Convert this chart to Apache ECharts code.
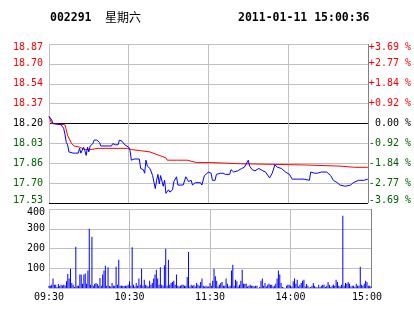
<!DOCTYPE html>
<html><head><meta charset="utf-8">
<script src="https://cdn.jsdelivr.net/npm/echarts@6/dist/echarts.min.js"></script>
<style>html,body{margin:0;padding:0;background:#fff}#c{width:414px;height:314px}</style>
</head><body><div id="c"></div>
<script>
const stockCode = '002291';
const weekday = '星期六';
const timestamp = '2011-01-11 15:00:36';
const prevClose = 18.20;
const pctRange = 3.69;
// tick labels, bottom -> top
const priceTickLabels = ['17.53','17.70','17.86','18.03','18.20','18.37','18.54','18.70','18.87'];
const pctTickLabels = ['-3.69 %','-2.77 %','-1.84 %','-0.92 %',' 0.00 %','+0.92 %','+1.84 %','+2.77 %','+3.69 %'];
const volTickLabels = ['', '100', '200', '300', '400'];
const timeTickLabels = ['09:30', '10:30', '11:30', '14:00', '15:00'];

// price line (minute index since 09:30, price)
const priceMinutes = [0,2,3,4,9,10,11,12,13,14,15,16,18,20,21,22,23,24,26,27,28,29,30,31,33,34,36,38,39,47,48,50,52,53,55,57,60,61,62,64,68,69,71,72,73,74,76,78,80,81,82,83,84,86,87,88,90,91,93,94,96,97,101,103,105,107,108,110,114,115,117,120,122,123,125,126,129,131,133,136,137,139,142,145,147,148,150,151,153,155,158,161,163,166,168,170,172,175,178,181,183,187,192,196,197,200,202,205,209,212,214,217,219,223,227,229,233,237,240];
const priceValues = [18.26,18.23,18.20,18.19,18.19,18.18,18.16,18.11,18.04,18.02,17.96,17.95,17.95,17.95,17.96,17.95,17.99,17.95,18.00,17.97,17.93,18.00,17.96,18.01,18.03,18.06,18.06,18.04,18.01,18.01,18.03,18.02,18.02,18.06,18.05,18.02,18.00,17.97,17.89,17.90,17.90,17.82,17.81,17.78,17.89,17.84,17.82,17.76,17.65,17.72,17.77,17.69,17.76,17.67,17.72,17.61,17.64,17.62,17.64,17.71,17.75,17.68,17.68,17.75,17.71,17.72,17.68,17.70,17.70,17.68,17.76,17.79,17.78,17.72,17.72,17.77,17.78,17.78,17.77,17.77,17.81,17.79,17.80,17.82,17.83,17.85,17.89,17.84,17.81,17.80,17.82,17.80,17.79,17.74,17.78,17.85,17.83,17.82,17.79,17.77,17.73,17.73,17.73,17.72,17.79,17.78,17.78,17.79,17.79,17.76,17.72,17.70,17.68,17.67,17.68,17.70,17.72,17.72,17.73];

// average price line
const avgMinutes = [0,2,12,14,17,19,23,27,31,37,59,62,69,76,83,88,89,96,104,111,122,144,192,219,230,240];
const avgValues = [18.26,18.20,18.19,18.10,18.03,18.01,18.00,17.98,17.98,17.99,17.99,17.98,17.97,17.96,17.93,17.91,17.89,17.89,17.89,17.87,17.87,17.86,17.85,17.84,17.83,17.83];

// volume per minute (241 minutes)
const volumes = [12,12,17,48,17,17,5,20,10,17,
13,17,13,34,71,48,98,25,17,5,
209,12,12,68,68,22,68,73,22,88,
300,17,260,12,20,25,20,12,51,12,
68,88,113,12,105,10,8,25,12,12,
108,17,143,12,12,12,10,12,12,17,
34,12,206,17,8,25,12,48,17,98,
12,42,17,12,8,37,17,25,48,68,
93,48,17,105,17,12,115,199,12,143,
17,25,30,37,17,68,12,8,12,17,
17,12,12,56,182,8,17,12,17,8,
25,17,12,30,48,12,8,12,8,8,
25,12,37,98,59,37,8,17,25,30,
12,12,48,22,8,12,88,118,12,42,
34,8,17,37,93,22,22,22,8,12,
17,12,12,8,12,12,0,5,37,48,
12,25,8,17,22,17,17,8,12,22,
48,88,68,25,5,3,0,12,17,17,
12,8,34,48,22,42,8,17,25,37,
42,8,20,12,3,5,12,25,12,5,
3,17,5,12,17,17,5,12,30,17,
5,12,17,12,42,30,12,8,17,366,
12,25,22,30,22,8,12,12,5,22,
12,12,108,17,12,22,37,30,12,12,
8];

const GRID = '#c0c0c0', DARK = '#808080', RED = '#ff0000', GREEN = '#006000', BLUE = '#0000ff';
const MONO = '"DejaVu Sans Mono", "Liberation Mono", monospace';
function tickColor(i) { return i < 4 ? GREEN : (i === 4 ? '#000' : RED); }
// keep the end labels inside the plot box
function edgeWrap(text, i, last) {
  if (i === last) return '{dn|' + text + '}';
  if (i === 0) return '{up|' + text + '}';
  return text;
}
const edgeRich = {dn: {padding: [6, 0, 0, 0]}, up: {padding: [0, 0, 6, 0]}};

const chart = echarts.init(document.getElementById('c'), null, {renderer: 'canvas'});
chart.setOption({
  animation: false,
  backgroundColor: '#fff',
  graphic: [
    {type: 'text', left: 50, top: 12, style: {text: stockCode, font: 'bold 11.5px ' + MONO, fill: '#000'}},
    {type: 'text', left: 105, top: 11, style: {text: weekday, font: '12px "Noto Sans CJK SC"', fill: '#000'}},
    {type: 'text', left: 238, top: 12, style: {text: timestamp, font: 'bold 11.5px ' + MONO, fill: '#000'}}
  ],
  grid: [
    {left: 49, right: 43, top: 44, height: 159, show: false},
    {left: 49, right: 43, top: 209, height: 79, show: false}
  ],
  xAxis: [
    {type: 'value', gridIndex: 0, min: 0, max: 240, interval: 60,
     axisLine: {show: false}, axisTick: {show: false}, axisLabel: {show: false},
     splitLine: {show: true, lineStyle: {color: [GRID, GRID, GRID, GRID, DARK], width: 1}}},
    {type: 'value', gridIndex: 1, min: 0, max: 240, interval: 60,
     axisLine: {show: false}, axisTick: {show: false},
     axisLabel: {show: true, margin: 4, fontFamily: MONO, fontSize: 10, color: '#000',
       formatter: v => {
         const i = Math.round(v / 60);
         return i === 4 ? '{r|' + timeTickLabels[i] + '}' : timeTickLabels[i];
       },
       rich: {r: {padding: [0, 8, 0, 0]}}},
     splitLine: {show: true, lineStyle: {color: [GRID, GRID, GRID, GRID, DARK], width: 1}}}
  ],
  yAxis: [
    {type: 'value', gridIndex: 0, min: -4, max: 4, interval: 1, position: 'left',
     axisLine: {show: false}, axisTick: {show: false},
     axisLabel: {margin: 6, fontFamily: MONO, fontSize: 10,
       formatter: v => { const i = Math.round(v + 4); return edgeWrap(priceTickLabels[i], i, 8); },
       color: v => tickColor(Math.round(v + 4)), rich: edgeRich},
     splitLine: {show: true, lineStyle: {color: ['#000', GRID, GRID, GRID, '#000', GRID, GRID, GRID, GRID], width: 1}}},
    {type: 'value', gridIndex: 0, min: -4, max: 4, interval: 1, position: 'right',
     axisLine: {show: false}, axisTick: {show: false},
     axisLabel: {margin: 1, fontFamily: MONO, fontSize: 10,
       formatter: v => { const i = Math.round(v + 4); return edgeWrap(pctTickLabels[i], i, 8); },
       color: v => tickColor(Math.round(v + 4)), rich: edgeRich},
     splitLine: {show: false}},
    {type: 'value', gridIndex: 0, show: false,
     min: prevClose * (1 - pctRange / 100), max: prevClose * (1 + pctRange / 100),
     splitLine: {show: false}},
    {type: 'value', gridIndex: 1, min: 0, max: 400, interval: 100, position: 'left',
     axisLine: {show: false}, axisTick: {show: false},
     axisLabel: {margin: 4, fontFamily: MONO, fontSize: 10, color: '#000',
       formatter: v => { const i = Math.round(v / 100); return i === 4 ? '{dn|' + volTickLabels[i] + '}' : volTickLabels[i]; },
       rich: edgeRich},
     splitLine: {show: true, lineStyle: {color: GRID, width: 1}}}
  ],
  series: [
    {type: 'line', xAxisIndex: 0, yAxisIndex: 2, showSymbol: false, symbol: 'none',
     lineStyle: {color: RED, width: 1}, data: avgMinutes.map((m, i) => [m, avgValues[i]]), z: 3},
    {type: 'line', xAxisIndex: 0, yAxisIndex: 2, showSymbol: false, symbol: 'none',
     lineStyle: {color: BLUE, width: 1}, data: priceMinutes.map((m, i) => [m, priceValues[i]]), z: 4},
    {type: 'bar', xAxisIndex: 1, yAxisIndex: 3, barWidth: 1, itemStyle: {color: BLUE},
     data: volumes.map((v, i) => [i, v]), z: 3}
  ]
});
</script></body></html>
